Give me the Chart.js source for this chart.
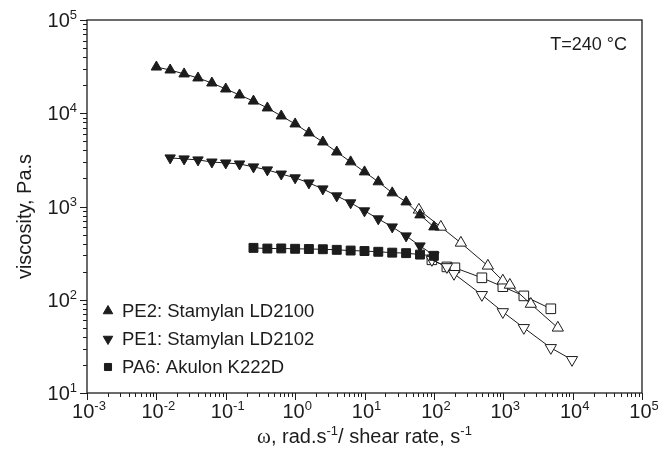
<!DOCTYPE html>
<html>
<head>
<meta charset="utf-8">
<script src="https://cdn.jsdelivr.net/npm/chart.js@4.4.1/dist/chart.umd.min.js"></script>
<style>
  html, body { margin: 0; padding: 0; background: #fff; }
  #wrap { width: 658px; height: 457px; }
</style>
</head>
<body>
<div id="wrap"><canvas id="viscosity-chart"></canvas></div>
<script>
// oscillatory data (filled symbols), omega in rad/s, viscosity in Pa.s
const pe2Omega = [0.01, 0.0158, 0.0251, 0.0398, 0.0631, 0.1, 0.158, 0.251, 0.398, 0.631, 1, 1.58, 2.51, 3.98, 6.31, 10, 15.8, 25.1, 39.8, 63.1, 100];
const pe2Eta = [31300, 29100, 26400, 23900, 21100, 18200, 15700, 13500, 11400, 9350, 7680, 6150, 4920, 3840, 3010, 2350, 1840, 1400, 1120, 813, 604];

const pe1Omega = [0.0158, 0.0251, 0.0398, 0.0631, 0.1, 0.158, 0.251, 0.398, 0.631, 1, 1.58, 2.51, 3.98, 6.31, 10, 15.8, 25.1, 39.8, 63.1, 100];
const pe1Eta = [3320, 3240, 3160, 3000, 2930, 2860, 2660, 2470, 2230, 2030, 1790, 1545, 1300, 1095, 898, 737, 604, 484, 378, 300];

const pa6Omega = [0.251, 0.398, 0.631, 1, 1.58, 2.51, 3.98, 6.31, 10, 15.8, 25.1, 39.8, 63.1, 100];
const pa6Eta = [360, 354, 355, 352, 350, 348, 343, 337, 333, 327, 320, 316, 305, 296];

// capillary data (open symbols), shear rate in 1/s
const pe2CapRate = [60.8, 126, 245, 600, 986, 1245, 2500, 6120];
const pe2CapEta = [921, 604, 407, 231, 160, 144, 90, 50];

const pe1CapRate = [93.6, 154, 195, 492, 986, 1980, 4850, 9800];
const pe1CapEta = [268, 225, 190, 113, 74, 50, 30.5, 22.7];

const pa6CapRate = [93.6, 154, 201, 492, 986, 1980, 4850];
const pa6CapEta = [268, 225, 220, 172, 138, 110, 80];

const legendLabels = ['PE2: Stamylan LD2100', 'PE1: Stamylan LD2102', 'PA6: Akulon K222D'];

const xMajor = [1e-3, 1e-2, 1e-1, 1, 10, 100, 1e3, 1e4, 1e5];
const xExp = ['-3', '-2', '-1', '0', '1', '2', '3', '4', '5'];
const yMajor = [10, 100, 1e3, 1e4, 1e5];
const yExp = ['1', '2', '3', '4', '5'];

const INK = '#1c1c1c';
const SANS = '"Liberation Sans", Arial, sans-serif';

function pts(xs, ys) {
    return xs.map((x, i) => ({ x: x, y: ys[i] }));
}

function series(label, xs, ys, style, rot, open, radius) {
    return {
        label: label,
        data: pts(xs, ys),
        showLine: true,
        borderColor: INK,
        borderWidth: 1,
        pointStyle: style,
        rotation: rot,
        pointRadius: radius,
        pointBorderWidth: 1,
        pointBorderColor: INK,
        pointBackgroundColor: open ? '#ffffff' : INK,
        pointHoverRadius: radius
    };
}

// draws text pieces, some of them superscript
function drawParts(ctx, parts, x, y, align) {
    let w = 0;
    parts.forEach(p => {
        ctx.font = p.font;
        p.w = ctx.measureText(p.t).width;
        w += p.w;
    });
    let cx = align === 'center' ? x - w / 2 : (align === 'right' ? x - w : x);
    ctx.textAlign = 'left';
    ctx.textBaseline = 'alphabetic';
    parts.forEach(p => {
        ctx.font = p.font;
        ctx.fillText(p.t, cx, y + (p.dy || 0));
        cx += p.w;
    });
}

function tenTo(exp) {
    return [
        { t: '10', font: '20px ' + SANS },
        { t: exp, font: '13px ' + SANS, dy: -8 }
    ];
}

const decorations = {
    id: 'decorations',
    afterDraw(chart) {
        const ctx = chart.ctx;
        const a = chart.chartArea;
        const xs = chart.scales.x, ys = chart.scales.y;
        ctx.save();
        ctx.strokeStyle = INK;
        ctx.fillStyle = INK;

        // frame
        ctx.lineWidth = 1.3;
        ctx.strokeRect(a.left, a.top, a.right - a.left, a.bottom - a.top);

        // ticks
        ctx.lineWidth = 1;
        ctx.beginPath();
        xMajor.forEach((d, i) => {
            const px = Math.round(xs.getPixelForValue(d)) + 0.5;
            ctx.moveTo(px, a.bottom); ctx.lineTo(px, a.bottom + 7);
            if (i < xMajor.length - 1) {
                for (let m = 2; m < 10; m++) {
                    const mx = Math.round(xs.getPixelForValue(d * m)) + 0.5;
                    ctx.moveTo(mx, a.bottom); ctx.lineTo(mx, a.bottom + 4);
                }
            }
        });
        yMajor.forEach((d, i) => {
            const py = Math.round(ys.getPixelForValue(d)) + 0.5;
            ctx.moveTo(a.left, py); ctx.lineTo(a.left - 7, py);
            if (i < yMajor.length - 1) {
                for (let m = 2; m < 10; m++) {
                    const my = Math.round(ys.getPixelForValue(d * m)) + 0.5;
                    ctx.moveTo(a.left, my); ctx.lineTo(a.left - 4, my);
                }
            }
        });
        ctx.stroke();

        // tick labels
        xMajor.forEach((d, i) => {
            drawParts(ctx, tenTo(xExp[i]), xs.getPixelForValue(d) + 2, a.bottom + 25, 'center');
        });
        yMajor.forEach((d, i) => {
            drawParts(ctx, tenTo(yExp[i]), a.left - 10, ys.getPixelForValue(d) + 7, 'right');
        });

        // axis titles
        drawParts(ctx, [
            { t: 'ω', font: '21px "Liberation Serif", serif' },
            { t: ', rad.s', font: '20px ' + SANS },
            { t: '-1', font: '13px ' + SANS, dy: -8 },
            { t: '/ shear rate, s', font: '20px ' + SANS },
            { t: '-1', font: '13px ' + SANS, dy: -8 }
        ], (a.left + a.right) / 2, 443, 'center');

        ctx.save();
        ctx.translate(31, (a.top + a.bottom) / 2 + 10);
        ctx.rotate(-Math.PI / 2);
        ctx.font = '20px ' + SANS;
        ctx.textAlign = 'center';
        ctx.textBaseline = 'alphabetic';
        ctx.fillText('viscosity, Pa.s', 0, 0);
        ctx.restore();

        // temperature note
        ctx.font = '18px ' + SANS;
        ctx.textAlign = 'right';
        ctx.textBaseline = 'alphabetic';
        ctx.fillText('T=240 °C', a.right - 15, 50);

        // legend
        const marks = ['triangle', 'triangle', 'rect'];
        const rots = [0, 180, 0];
        const rowY = [311, 339, 367];
        legendLabels.forEach((lab, i) => {
            ctx.fillStyle = INK;
            ctx.lineWidth = 1;
            Chart.helpers.drawPoint(ctx, {
                pointStyle: marks[i], rotation: rots[i],
                radius: i === 2 ? 5 : 5.5, borderWidth: 1
            }, 108, rowY[i]);
            ctx.font = '18.5px ' + SANS;
            ctx.textAlign = 'left';
            ctx.textBaseline = 'middle';
            ctx.fillText(lab, 122, rowY[i] + 1);
        });
        ctx.restore();
    }
};

new Chart(document.getElementById('viscosity-chart'), {
    type: 'scatter',
    data: {
        datasets: [
            series(legendLabels[0], pe2Omega, pe2Eta, 'triangle', 0, false, 6),
            series(legendLabels[1], pe1Omega, pe1Eta, 'triangle', 180, false, 6),
            series(legendLabels[2], pa6Omega, pa6Eta, 'rect', 0, false, 6.3),
            series('PE2 capillary', pe2CapRate, pe2CapEta, 'triangle', 0, true, 6.5),
            series('PE1 capillary', pe1CapRate, pe1CapEta, 'triangle', 180, true, 6.5),
            series('PA6 capillary', pa6CapRate, pa6CapEta, 'rect', 0, true, 6.8)
        ]
    },
    options: {
        responsive: true,
        maintainAspectRatio: false,
        animation: false,
        devicePixelRatio: 1,
        layout: { padding: { left: 87, top: 20, right: 16, bottom: 64 } },
        plugins: {
            legend: { display: false },
            tooltip: { enabled: false }
        },
        scales: {
            x: { type: 'logarithmic', min: 1e-3, max: 1e5, display: false },
            y: { type: 'logarithmic', min: 10, max: 1e5, display: false }
        }
    },
    plugins: [decorations]
});
</script>
</body>
</html>
